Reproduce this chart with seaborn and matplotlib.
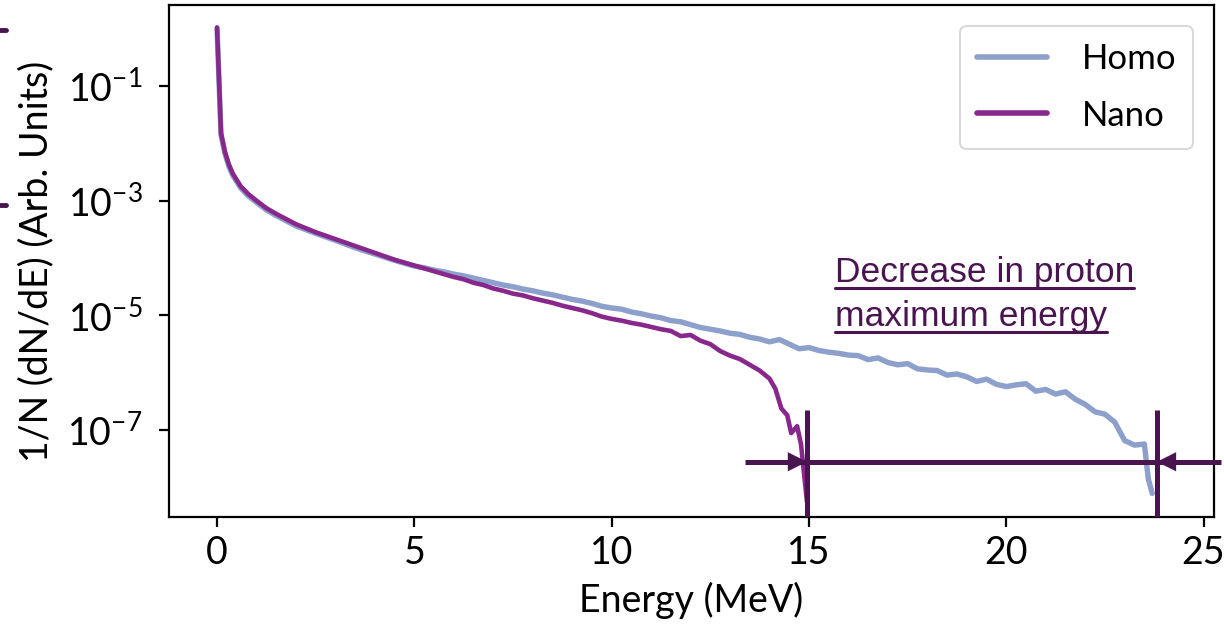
import numpy as np
import pandas as pd
import matplotlib
matplotlib.use("Agg")
import matplotlib.pyplot as plt
from matplotlib.lines import Line2D
import seaborn as sns

# ---------------- data ----------------
homo_energy = [0.0, 0.1, 0.2, 0.3, 0.4, 0.6, 0.8, 1.0, 1.25, 1.5, 1.75, 2.0, 2.5, 3.0, 3.5, 4.0, 4.5,
               5.0, 5.25, 5.5, 5.75, 6.0, 6.25, 6.5, 6.75, 7.0, 7.25, 7.5, 7.75, 8.0, 8.25, 8.5, 8.75,
               9.0, 9.25, 9.5, 9.75, 10.0, 10.25, 10.5, 10.75, 11.0, 11.25, 11.5, 11.75, 12.0, 12.25,
               12.5, 12.75, 13.0, 13.25, 13.5, 13.75, 14.0, 14.25, 14.5, 14.75, 15.0, 15.25, 15.5,
               15.75, 16.0, 16.25, 16.5, 16.75, 17.0, 17.25, 17.5, 17.75, 18.0, 18.25, 18.5, 18.75,
               19.0, 19.25, 19.5, 19.75, 20.0, 20.25, 20.5, 20.75, 21.0, 21.25, 21.5, 21.75, 22.0,
               22.25, 22.5, 22.75, 23.0, 23.25, 23.5, 23.6, 23.7]
homo_log10 = [0.0, -1.85, -2.18, -2.40, -2.56, -2.78, -2.92, -3.03, -3.16, -3.26, -3.35, -3.44, -3.57,
              -3.69, -3.82, -3.93, -4.04,
              -4.14, -4.17, -4.21, -4.24, -4.28, -4.31, -4.35, -4.39, -4.43, -4.47, -4.50, -4.54,
              -4.57, -4.61, -4.64, -4.68, -4.72, -4.75, -4.79, -4.84, -4.87, -4.89, -4.94, -4.97,
              -5.01, -5.04, -5.09, -5.11, -5.16, -5.21, -5.24, -5.27, -5.31, -5.33, -5.38, -5.41,
              -5.46, -5.42, -5.50, -5.58, -5.56, -5.61, -5.64, -5.66, -5.69, -5.70, -5.77, -5.74,
              -5.82, -5.86, -5.84, -5.93, -5.95, -5.96, -6.04, -6.02, -6.07, -6.15, -6.11, -6.20,
              -6.24, -6.21, -6.19, -6.32, -6.29, -6.37, -6.33, -6.46, -6.55, -6.68, -6.72, -6.86,
              -7.18, -7.26, -7.24, -7.85, -8.10]

nano_energy = [0.0, 0.1, 0.2, 0.3, 0.4, 0.6, 0.8, 1.0, 1.25, 1.5, 1.75, 2.0, 2.5, 3.0, 3.5, 4.0, 4.5,
               5.0, 5.25, 5.5, 5.75, 6.0, 6.25, 6.5, 6.75, 7.0, 7.25, 7.5, 7.75, 8.0, 8.25, 8.5, 8.75,
               9.0, 9.25, 9.5, 9.75, 10.0, 10.25, 10.5, 10.75, 11.0, 11.25, 11.5, 11.75, 12.0, 12.25,
               12.5, 12.75, 13.0, 13.25, 13.5, 13.75, 14.0, 14.15, 14.3, 14.45, 14.55, 14.7, 14.8, 14.95]
nano_log10 = [0.02, -1.82, -2.15, -2.37, -2.53, -2.75, -2.89, -3.00, -3.13, -3.23, -3.32, -3.41, -3.55,
              -3.67, -3.79, -3.91, -4.03,
              -4.13, -4.18, -4.23, -4.28, -4.33, -4.37, -4.43, -4.47, -4.53, -4.57, -4.62, -4.65,
              -4.70, -4.74, -4.78, -4.83, -4.87, -4.91, -4.96, -5.02, -5.06, -5.09, -5.13, -5.16,
              -5.20, -5.24, -5.27, -5.36, -5.34, -5.44, -5.50, -5.62, -5.70, -5.76, -5.86, -5.96,
              -6.10, -6.28, -6.62, -6.74, -7.05, -6.93, -7.25, -8.25]

series_names = ["Homo", "Nano"]
series_colors = ["#8da0cb", "#88288c"]
y_tick_exponents = [-1, -3, -5, -7]
x_ticks = [0, 5, 10, 15, 20, 25]

cutoff_nano = 14.95
cutoff_homo = 23.82
annotation_lines = ["Decrease in proton", "maximum energy"]

# ---------------- figure ----------------
sns.set_style("ticks")
plt.rcParams["font.family"] = ["Lato", "DejaVu Sans"]
plt.rcParams["mathtext.fontset"] = "custom"
plt.rcParams["mathtext.rm"] = "Lato"
plt.rcParams["mathtext.default"] = "regular"
plt.rcParams["text.color"] = "black"
plt.rcParams["axes.labelcolor"] = "black"
plt.rcParams["xtick.color"] = "black"
plt.rcParams["ytick.color"] = "black"

fig = plt.figure(figsize=(12.24, 6.25), dpi=100)
ax = fig.add_axes([0.138, 0.173, 0.854, 0.819])

df_homo = pd.DataFrame({"Energy": homo_energy, "val": 10.0 ** np.array(homo_log10), "Sample": "Homo"})
df_nano = pd.DataFrame({"Energy": nano_energy, "val": 10.0 ** np.array(nano_log10), "Sample": "Nano"})

sns.lineplot(data=df_homo, x="Energy", y="val", color=series_colors[0], lw=3.9,
             label=series_names[0], ax=ax, estimator=None, sort=False)
sns.lineplot(data=df_nano, x="Energy", y="val", color=series_colors[1], lw=3.3,
             label=series_names[1], ax=ax, estimator=None, sort=False)

ax.set_yscale("log")
ax.set_xlim(-1.22, 25.27)
ax.set_ylim(10 ** -8.51, 10 ** 0.41)
ax.set_yticks([10.0 ** e for e in y_tick_exponents])
ax.set_yticklabels([r"$10^{%d}$" % e for e in y_tick_exponents])
ax.yaxis.set_minor_locator(matplotlib.ticker.NullLocator())
ax.set_xticks(x_ticks)
ax.set_xticklabels([str(t) for t in x_ticks])

for s in ax.spines.values():
    s.set_visible(True)
    s.set_linewidth(1.6)
    s.set_color("black")
ax.tick_params(axis="both", labelsize=27, length=7, width=1.6, color="black")
ax.tick_params(axis="x", pad=6)
ax.tick_params(axis="y", pad=12)

ax.set_xlabel("Energy (MeV)", fontsize=27, labelpad=8)
ax.set_ylabel("1/N (dN/dE) (Arb. Units)", fontsize=27)
ax.yaxis.set_label_coords(-0.11, 0.5)

leg = ax.legend(loc="upper right", fontsize=25, handlelength=2.0, handletextpad=1.0,
                borderpad=0.5, labelspacing=0.7, frameon=True, fancybox=True,
                borderaxespad=0.6)
leg.get_frame().set_edgecolor("#d0d0d0")
leg.get_frame().set_linewidth(1.5)
for h in leg.get_lines():
    h.set_linewidth(4)

# ---------------- annotation: cut-off markers and arrows ----------------
dark = "#4a1450"
arrow_y = 10 ** -7.55
vtop = 10 ** -6.64
ybot = 10 ** -8.51
for xc in (cutoff_nano, cutoff_homo):
    ax.plot([xc, xc], [ybot, vtop], color=dark, lw=3.6, solid_capstyle="butt", zorder=5)
ax.plot([13.37, 25.45], [arrow_y, arrow_y], color=dark, lw=3.6, clip_on=False,
        solid_capstyle="butt", zorder=5)
ax.annotate("", xy=(cutoff_nano, arrow_y), xytext=(cutoff_nano - 0.6, arrow_y),
            arrowprops=dict(arrowstyle="-|>", color=dark, lw=0.1, mutation_scale=34,
                            shrinkA=0, shrinkB=0), zorder=6)
ax.annotate("", xy=(cutoff_homo, arrow_y), xytext=(cutoff_homo + 0.6, arrow_y),
            arrowprops=dict(arrowstyle="-|>", color=dark, lw=0.1, mutation_scale=34,
                            shrinkA=0, shrinkB=0), annotation_clip=False, zorder=6)

texts = []
for line, ylog in zip(annotation_lines, [-4.41, -5.18]):
    t = ax.text(15.65, 10 ** ylog, line, fontsize=25.5, color=dark, va="baseline", ha="left",
                family=["Liberation Sans", "DejaVu Sans"])
    texts.append((t, ylog))

fig.canvas.draw()
renderer = fig.canvas.get_renderer()
inv = fig.transFigure.inverted()
for t, ylog in texts:
    bb = t.get_window_extent(renderer)
    base = ax.transData.transform((15.65, 10 ** ylog))[1]
    x0, y0 = inv.transform((bb.x0, base - 6))
    x1, _ = inv.transform((bb.x1, base - 6))
    fig.add_artist(Line2D([x0, x1], [y0, y0], transform=fig.transFigure, color=dark, lw=2.2))

# small cropped marks at left edge
for yp in (30, 205):
    yf = 1 - yp / 625
    fig.add_artist(Line2D([0, 6 / 1224], [yf, yf], transform=fig.transFigure, color=dark, lw=3.5))

fig.savefig("out.png", dpi=100)
